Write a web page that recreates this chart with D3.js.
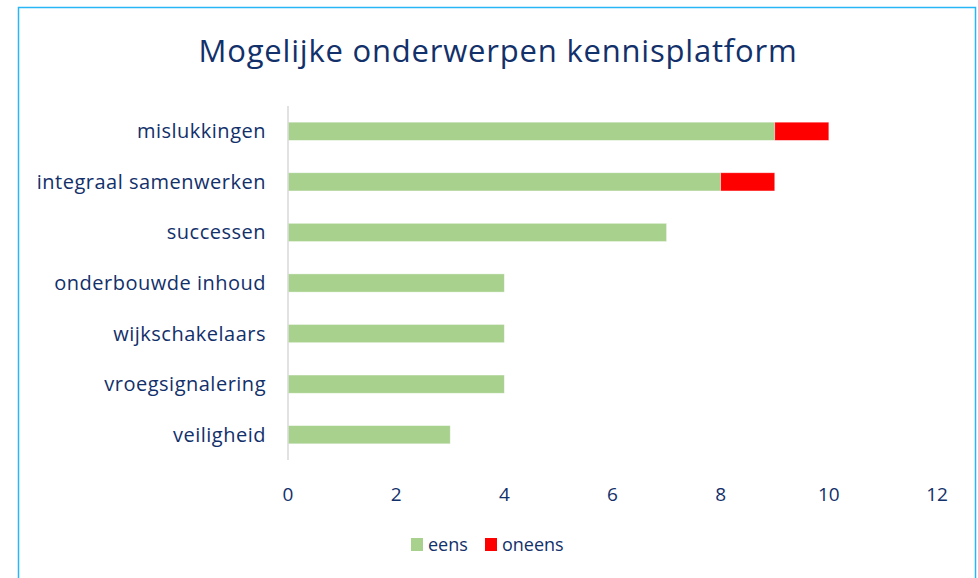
<!DOCTYPE html>
<html>
<head>
<meta charset="utf-8">
<script src="https://cdn.jsdelivr.net/npm/d3@7"></script>
<style>
  body { margin: 0; background: #fff; }
  svg { display: block; font-family: "Open Sans", sans-serif; }
</style>
</head>
<body>
<div id="container"></div>
<script>
// Data
const categories = ["mislukkingen", "integraal samenwerken", "successen", "onderbouwde inhoud", "wijkschakelaars", "vroegsignalering", "veiligheid"];
const eens = [9, 8, 7, 4, 4, 4, 3];
const oneens = [1, 1, 0, 0, 0, 0, 0];
const seriesNames = ["eens", "oneens"];
const seriesColors = ["#A9D18E", "#FF0000"];
const xTicks = [0, 2, 4, 6, 8, 10, 12];

const width = 978;
const height = 578;
const marginTop = 106;
const marginBottom = 118;
const marginLeft = 288;
const marginRight = 41;
const textColor = "#12306A";

const svg = d3.create("svg").attr("width", width).attr("height", height);

// chart border
svg.append("rect")
  .attr("x", 18.5).attr("y", 7.5)
  .attr("width", 957).attr("height", 580)
  .attr("fill", "#fff")
  .attr("stroke", "#29B6F6")
  .attr("stroke-width", 1.5);

const x = d3.scaleLinear()
  .domain([0, 12])
  .range([marginLeft, width - marginRight]);

const y = d3.scaleBand()
  .domain(categories)
  .range([marginTop, height - marginBottom])
  .paddingInner(0.64)
  .paddingOuter(0.32);

// stack the two series
const table = categories.map((c, i) => ({ cat: c, eens: eens[i], oneens: oneens[i] }));
const stacked = d3.stack().keys(seriesNames)(table);

svg.append("g")
  .selectAll("g")
  .data(stacked)
  .join("g")
  .attr("fill", (d, i) => seriesColors[i])
  .selectAll("rect")
  .data(d => d.filter(v => v[1] > v[0]))
  .join("rect")
  .attr("x", d => x(d[0]))
  .attr("y", d => y(d.data.cat))
  .attr("width", d => x(d[1]) - x(d[0]))
  .attr("height", y.bandwidth())
  .attr("stroke", "#fff")
  .attr("stroke-opacity", 0.5)
  .attr("stroke-width", 0.75);

// vertical category axis line
svg.append("line")
  .attr("x1", x(0)).attr("x2", x(0))
  .attr("y1", marginTop).attr("y2", height - marginBottom)
  .attr("stroke", "#D9D9D9")
  .attr("stroke-width", 1.5);

// category labels
svg.append("g")
  .selectAll("text")
  .data(categories)
  .join("text")
  .attr("x", x(0) - 22)
  .attr("y", d => y(d) + y.bandwidth() / 2)
  .attr("dy", "0.35em")
  .attr("text-anchor", "end")
  .attr("fill", textColor)
  .attr("font-size", 20)
  .attr("letter-spacing", 0.5)
  .text(d => d);

// x tick labels
svg.append("g")
  .selectAll("text")
  .data(xTicks)
  .join("text")
  .attr("x", d => x(d))
  .attr("y", 494)
  .attr("dy", "0.35em")
  .attr("text-anchor", "middle")
  .attr("fill", textColor)
  .attr("font-size", 19)
  .text(d => d);

// title
svg.append("text")
  .attr("x", 498)
  .attr("y", 51)
  .attr("dy", "0.35em")
  .attr("text-anchor", "middle")
  .attr("fill", textColor)
  .attr("font-size", 31)
  .attr("letter-spacing", 0.8)
  .text("Mogelijke onderwerpen kennisplatform");

// legend
const legendX = [411, 485];
const legend = svg.append("g")
  .selectAll("g")
  .data(seriesNames)
  .join("g")
  .attr("transform", (d, i) => `translate(${legendX[i]},538)`);
legend.append("rect")
  .attr("width", 12).attr("height", 13)
  .attr("fill", (d, i) => seriesColors[i]);
legend.append("text")
  .attr("x", 17).attr("y", 6.5)
  .attr("dy", "0.35em")
  .attr("fill", textColor)
  .attr("font-size", 18)
  .text(d => d);

document.getElementById("container").append(svg.node());
</script>
</body>
</html>
